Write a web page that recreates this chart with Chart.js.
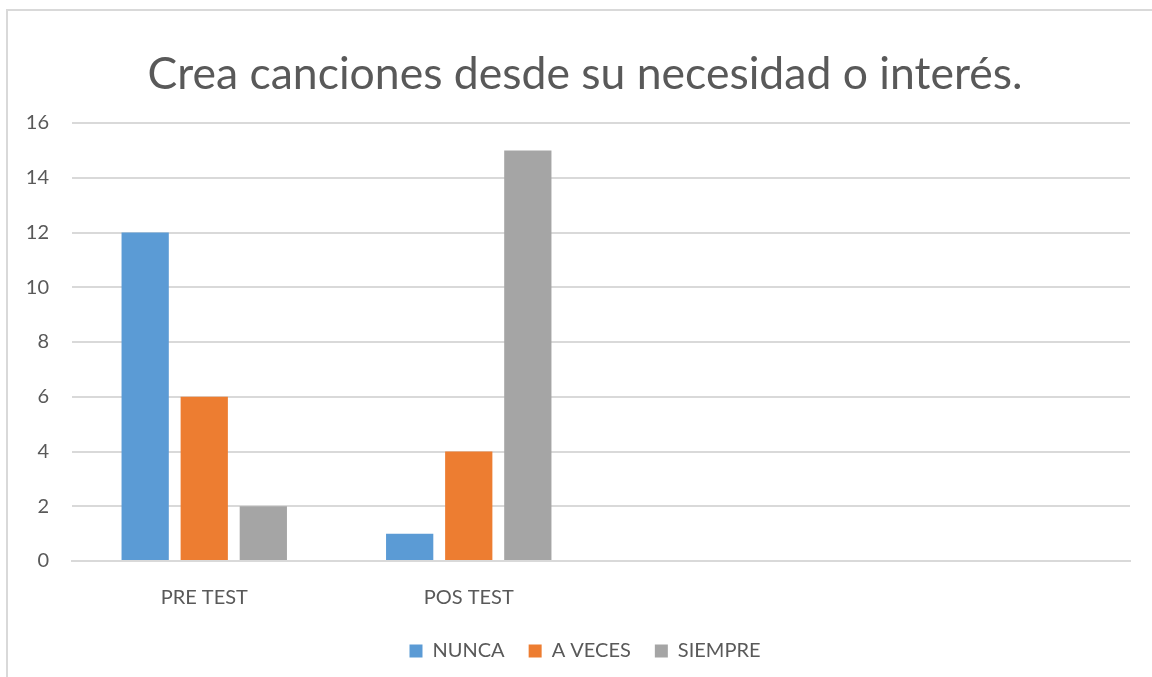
<!DOCTYPE html>
<html>
<head>
<meta charset="utf-8">
<script src="https://cdn.jsdelivr.net/npm/chart.js@4"></script>
<style>
  html, body { margin: 0; padding: 0; background: #fff; overflow: hidden; }
  #wrap { position: relative; width: 1152px; height: 677px; }
  #frame { position: absolute; left: 6px; top: 9px; width: 1200px; height: 700px; border: 2px solid #d9d9d9; box-sizing: border-box; pointer-events: none; }
  canvas { position: absolute; left: 0; top: 0; }
</style>
</head>
<body>
<div id="wrap">
  <div id="frame"></div>
  <canvas id="c" width="1152" height="677"></canvas>
</div>
<script>
const titleText = 'Crea canciones desde su necesidad o interés.';
const categories = ['PRE TEST', 'POS TEST', '', ''];
const seriesNames = ['NUNCA', 'A VECES', 'SIEMPRE'];
const nunca = [12, 1, null, null];
const aVeces = [6, 4, null, null];
const siempre = [2, 15, null, null];
const yTicks = { min: 0, max: 16, step: 2 };
const colors = ['#5B9BD5', '#ED7D31', '#A5A5A5'];

const FONT = 'Lato, "Open Sans", sans-serif';
const textColor = '#595959';
const gridColor = '#d9d9d9';

// fit title font size to the reference width
const mctx = document.createElement('canvas').getContext('2d');
mctx.font = '40px ' + FONT;
const titleSize = Math.round(40 * 874 / mctx.measureText(titleText).width * 10) / 10;
const titleTopPad = 75 - titleSize * 0.6;
const titleBottomPad = 123 - titleTopPad - titleSize * 1.2;

const data = [nunca, aVeces, siempre];

new Chart(document.getElementById('c'), {
  type: 'bar',
  data: {
    labels: categories,
    datasets: seriesNames.map((n, i) => ({
      label: n,
      data: data[i],
      backgroundColor: colors[i],
      borderWidth: 0,
      yAxisID: 'y',
      categoryPercentage: 0.67,
      barPercentage: 0.8
    }))
  },
  options: {
    responsive: false,
    animation: false,
    devicePixelRatio: 1,
    layout: { padding: { left: 18, right: 0, top: 0, bottom: 6 } },
    plugins: {
      title: {
        display: true,
        text: titleText,
        color: textColor,
        font: { family: FONT, size: titleSize, weight: 'normal' },
        padding: { top: titleTopPad, bottom: titleBottomPad }
      },
      legend: {
        position: 'bottom',
        labels: {
          color: textColor,
          font: { family: FONT, size: 20 },
          boxWidth: 13,
          boxHeight: 13,
          padding: 24
        }
      },
      tooltip: { enabled: false }
    },
    scales: {
      x: {
        grid: { display: false, drawTicks: false },
        border: { display: true, color: gridColor, width: 2 },
        ticks: { color: textColor, font: { family: FONT, size: 20 }, padding: 25, maxRotation: 0 },
        afterFit: (s) => { s.height = 56; }
      },
      y: {
        min: yTicks.min,
        max: yTicks.max,
        ticks: { stepSize: yTicks.step, color: textColor, font: { family: FONT, size: 20 }, padding: 23 },
        grid: { color: gridColor, lineWidth: 2, drawTicks: false },
        border: { display: false },
        afterFit: (s) => { s.width = 54; }
      },
      yRight: {
        position: 'right',
        display: true,
        grid: { display: false, drawTicks: false },
        border: { display: false },
        ticks: { display: false },
        afterFit: (s) => { s.width = 22; }
      }
    }
  }
});
</script>
</body>
</html>
